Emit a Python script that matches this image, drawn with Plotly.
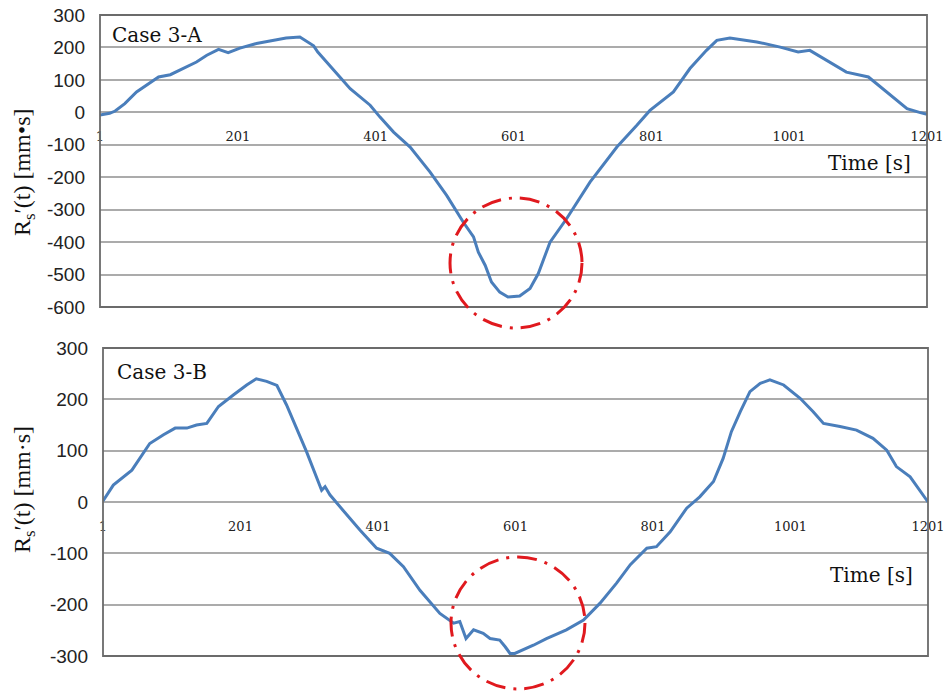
import plotly.graph_objects as go

W, H = 949, 693

# Case 3-A: time [s] and R_s'(t) [mm·s]
time_a = [1, 15, 23, 37, 54, 74, 86, 103, 122, 141, 156, 173, 187, 204, 228, 252,
          271, 291, 305, 311, 317, 330, 354, 364, 393, 407, 427, 451, 480, 504,
          528, 543, 550, 560, 569, 581, 593, 610, 625, 637, 654, 678, 712, 751,
          780, 799, 833, 857, 881, 896, 915, 954, 988, 1014, 1031, 1060, 1084,
          1116, 1142, 1172, 1190, 1201]
rs_a = [-8, -3, 4, 27, 63, 93, 109, 116, 135, 155, 176, 194, 184, 198, 212, 222,
        229, 232, 214, 205, 186, 155, 99, 73, 22, -14, -61, -107, -184, -256,
        -338, -384, -431, -472, -523, -554, -569, -566, -543, -497, -400, -328,
        -215, -107, -40, 6, 63, 135, 191, 222, 229, 217, 201, 186, 191, 155, 124,
        109, 63, 11, 0, -6]

# Case 3-B
time_b = [1, 16, 43, 69, 89, 106, 123, 137, 152, 169, 191, 210, 224, 239, 254, 268,
          297, 307, 319, 324, 331, 350, 375, 399, 418, 438, 462, 491, 511, 520,
          529, 540, 554, 564, 578, 586, 593, 600, 627, 646, 675, 700, 724, 748,
          768, 792, 806, 826, 850, 869, 889, 903, 915, 928, 942, 957, 971, 991,
          1015, 1034, 1049, 1073, 1097, 1121, 1141, 1155, 1175, 1201]
rs_b = [2, 33, 62, 114, 131, 144, 144, 150, 153, 186, 209, 228, 240, 235, 227, 189,
        98, 62, 23, 30, 14, -16, -55, -90, -100, -126, -172, -217, -236, -233,
        -266, -249, -256, -266, -269, -282, -295, -295, -279, -266, -249, -230,
        -197, -158, -122, -90, -87, -58, -12, 10, 40, 85, 137, 176, 215, 231, 238,
        228, 202, 176, 153, 147, 140, 124, 101, 69, 49, 0]

time_ticks = [1, 201, 401, 601, 801, 1001, 1201]
yticks_a = list(range(-600, 301, 100))
yticks_b = list(range(-300, 301, 100))

LINE_BLUE = "#4a7ebb"
GRID = "#ababab"
FRAME = "#6b6b6b"
RED = "#e0191e"


def px_x(x):
    return x / W


def px_y(y):
    return 1 - y / H


# panel frames in pixels: left, top, right, bottom
pa = (100, 15, 927, 307)
pb = (103, 348, 928, 656)

fig = go.Figure()
fig.add_trace(go.Scatter(x=time_a, y=rs_a, mode="lines", xaxis="x", yaxis="y",
                         line=dict(color=LINE_BLUE, width=3), showlegend=False))
fig.add_trace(go.Scatter(x=time_b, y=rs_b, mode="lines", xaxis="x2", yaxis="y2",
                         line=dict(color=LINE_BLUE, width=3), showlegend=False))

xcommon = dict(range=[1, 1201], tickmode="array", tickvals=time_ticks,
               showgrid=False, zeroline=False, showline=False, ticks="",
               automargin=False,
               tickfont=dict(family="DejaVu Serif", size=13, color="#222"))
ycommon = dict(showgrid=True, gridcolor=GRID,
               gridwidth=1.5, zeroline=False, showline=False, ticks="",
               ticklabelstandoff=14, automargin=False,
               tickfont=dict(family="Liberation Sans", size=19, color="#222"))

fig.update_layout(
    width=W, height=H,
    margin=dict(l=0, r=0, t=0, b=0),
    paper_bgcolor="white", plot_bgcolor="white",
    xaxis=dict(domain=[px_x(pa[0]), px_x(pa[2])], anchor="free",
               position=px_y(127), **xcommon),
    yaxis=dict(domain=[px_y(pa[3]), px_y(pa[1])], range=[-600, 300],
               anchor="x", tickmode="array", tickvals=yticks_a,
               ticktext=[str(v) for v in yticks_a], **ycommon),
    xaxis2=dict(domain=[px_x(pb[0]), px_x(pb[2])], anchor="free",
                position=px_y(517), **xcommon),
    yaxis2=dict(domain=[px_y(pb[3]), px_y(pb[1])], range=[-300, 300],
                anchor="x2", tickmode="array", tickvals=yticks_b,
                ticktext=[str(v) for v in yticks_b], **ycommon),
)

shapes = []
for (l, t, r, b) in (pa, pb):
    shapes.append(dict(type="rect", xref="paper", yref="paper",
                       x0=px_x(l), x1=px_x(r), y0=px_y(b), y1=px_y(t),
                       line=dict(color=FRAME, width=1.8), layer="above"))

# dash-dot rings around the minima
for (cx, cy, rx, ry) in ((516, 263, 66, 65), (518, 623, 67, 66)):
    shapes.append(dict(type="circle", xref="paper", yref="paper",
                       x0=px_x(cx - rx), x1=px_x(cx + rx),
                       y0=px_y(cy + ry), y1=px_y(cy - ry),
                       line=dict(color=RED, width=3, dash="20px,8px,3px,8px"),
                       layer="above"))
fig.update_layout(shapes=shapes)

serif = "DejaVu Serif"
notes = [
    dict(text="Case 3-A", x=px_x(110), y=px_y(35), xanchor="left", yanchor="middle",
         font=dict(family=serif, size=20, color="#111")),
    dict(text="Case 3-B", x=px_x(115), y=px_y(372), xanchor="left", yanchor="middle",
         font=dict(family=serif, size=20, color="#111")),
    dict(text="Time [s]", x=px_x(913), y=px_y(163), xanchor="right", yanchor="middle",
         font=dict(family=serif, size=20, color="#111")),
    dict(text="Time [s]", x=px_x(915), y=px_y(575), xanchor="right", yanchor="middle",
         font=dict(family=serif, size=20, color="#111")),
    dict(text="R<sub>s</sub>\u2032(t) [mm\u2022s]", x=px_x(24), y=px_y(172),
         textangle=-90, xanchor="center", yanchor="middle",
         font=dict(family="Liberation Serif", size=24, color="#111")),
    dict(text="R<sub>s</sub>\u2032(t) [mm\u00b7s]", x=px_x(24), y=px_y(490),
         textangle=-90, xanchor="center", yanchor="middle",
         font=dict(family="Liberation Serif", size=24, color="#111")),
]
for n in notes:
    n.update(xref="paper", yref="paper", showarrow=False)
fig.update_layout(annotations=notes)

fig.write_html("out.html")
